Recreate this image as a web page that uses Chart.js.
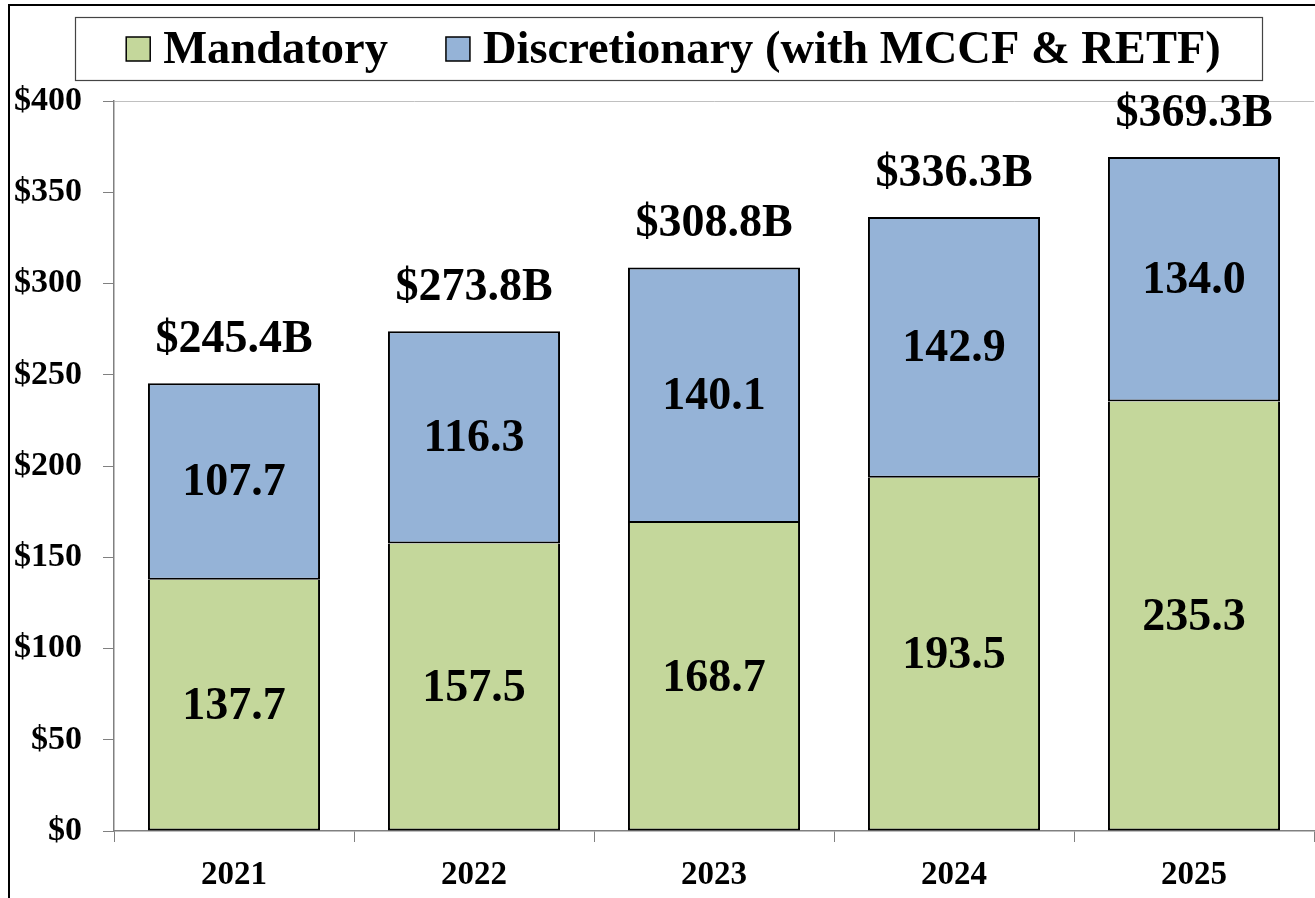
<!DOCTYPE html>
<html>
<head>
<meta charset="utf-8">
<script src="https://cdn.jsdelivr.net/npm/chart.js@4.4.1/dist/chart.umd.min.js"></script>
<style>
  html, body { margin: 0; padding: 0; background: #fff; }
  #wrap { width: 1315px; height: 898px; position: relative; }
</style>
</head>
<body>
<div id="wrap"><canvas id="c" width="1315" height="898"></canvas></div>
<script>
const categories = ['2021', '2022', '2023', '2024', '2025'];
const mandatory = [137.7, 157.5, 168.7, 193.5, 235.3];
const discretionary = [107.7, 116.3, 140.1, 142.9, 134.0];
const totals = ['$245.4B', '$273.8B', '$308.8B', '$336.3B', '$369.3B'];
const yTicks = [0, 50, 100, 150, 200, 250, 300, 350, 400];
const seriesNames = ['Mandatory', 'Discretionary (with MCCF & RETF)'];

const SERIF = '"Liberation Serif", "Times New Roman", Times, serif';
const GREEN = '#C4D79B';
const BLUE = '#95B3D7';

const framePlugin = {
  id: 'frame',
  beforeDraw(chart) {
    const ctx = chart.ctx;
    ctx.save();
    ctx.fillStyle = '#fff';
    ctx.fillRect(0, 0, chart.width, chart.height);
    ctx.strokeStyle = '#000';
    ctx.lineWidth = 2;
    ctx.beginPath();
    ctx.moveTo(9, chart.height + 2);
    ctx.lineTo(9, 5);
    ctx.lineTo(chart.width + 2, 5);
    ctx.stroke();
    ctx.restore();
  }
};

const legendPlugin = {
  id: 'boxLegend',
  afterDraw(chart) {
    const ctx = chart.ctx;
    ctx.save();
    const fT = 17, fR = 1262, fB = 80;
    ctx.strokeStyle = '#444';
    ctx.lineWidth = 1.2;
    ctx.strokeRect(75.5, fT + 0.5, fR - 75, fB - fT);
    ctx.font = 'bold 46.5px ' + SERIF;
    ctx.textBaseline = 'alphabetic';
    ctx.textAlign = 'left';
    const box = 24, gapText = 13, gapItem = 58;
    const items = chart.data.datasets.map(ds => ({
      label: ds.label, color: ds.backgroundColor, w: ctx.measureText(ds.label).width
    }));
    let total = 0;
    items.forEach((it, i) => { total += box + gapText + it.w + (i ? gapItem : 0); });
    let x = (75 + fR) / 2 - total / 2 + 5;
    items.forEach((it, i) => {
      if (i) x += gapItem;
      ctx.fillStyle = it.color;
      ctx.fillRect(x, 37, box, box);
      ctx.strokeStyle = '#000';
      ctx.lineWidth = 1.5;
      ctx.strokeRect(x, 37, box, box);
      x += box + gapText;
      ctx.fillStyle = '#000';
      ctx.fillText(it.label, x, 63);
      x += it.w;
    });
    ctx.restore();
  }
};

const labelPlugin = {
  id: 'barLabels',
  afterDatasetsDraw(chart) {
    const ctx = chart.ctx;
    ctx.save();
    ctx.fillStyle = '#000';
    ctx.textAlign = 'center';
    ctx.font = 'bold 46px ' + SERIF;
    chart.data.datasets.forEach((ds, di) => {
      const meta = chart.getDatasetMeta(di);
      meta.data.forEach((bar, i) => {
        const p = bar.getProps(['x', 'y', 'base'], true);
        ctx.textBaseline = 'middle';
        ctx.fillText(ds.data[i].toFixed(1), p.x, (p.y + p.base) / 2 + 2);
      });
    });
    const topMeta = chart.getDatasetMeta(chart.data.datasets.length - 1);
    topMeta.data.forEach((bar, i) => {
      const p = bar.getProps(['x', 'y'], true);
      ctx.textBaseline = 'alphabetic';
      ctx.fillText(totals[i], p.x, p.y - 31);
    });
    ctx.restore();
  }
};

new Chart(document.getElementById('c'), {
  type: 'bar',
  data: {
    labels: categories,
    datasets: [
      { label: seriesNames[0], data: mandatory, backgroundColor: GREEN, borderColor: '#000', borderWidth: 2, borderSkipped: 'top' },
      { label: seriesNames[1], data: discretionary, backgroundColor: BLUE, borderColor: '#000', borderWidth: 2, borderSkipped: false }
    ]
  },
  options: {
    responsive: false,
    animation: false,
    devicePixelRatio: 1,
    layout: { padding: { top: 101, right: 1, left: 0, bottom: 0 } },
    plugins: { legend: { display: false }, tooltip: { enabled: false } },
    datasets: { bar: { barPercentage: 0.717, categoryPercentage: 1.0 } },
    scales: {
      x: {
        stacked: true,
        offset: true,
        grid: { offset: true, drawOnChartArea: false, drawTicks: true, tickLength: 11, color: '#808080', tickColor: '#808080' },
        border: { color: '#808080', width: 1.5 },
        ticks: { color: '#000', padding: 14, font: { family: SERIF, weight: 'bold', size: 33 } },
        afterFit(s) { s.height = 67; }
      },
      y: {
        stacked: true,
        min: 0, max: 400,
        afterBuildTicks(s) { s.ticks = yTicks.map(v => ({ value: v })); },
        grid: {
          drawOnChartArea: true, drawTicks: true, tickLength: 11,
          color: c => (c.tick && c.tick.value === 400) ? '#c0c0c0' : 'rgba(0,0,0,0)',
          tickColor: '#808080'
        },
        border: { color: '#808080', width: 1.5 },
        ticks: { color: '#000', padding: 21, font: { family: SERIF, weight: 'bold', size: 34 }, callback: v => '$' + v },
        afterFit(s) { s.width = 114; }
      }
    }
  },
  plugins: [framePlugin, legendPlugin, labelPlugin]
});
</script>
</body>
</html>
